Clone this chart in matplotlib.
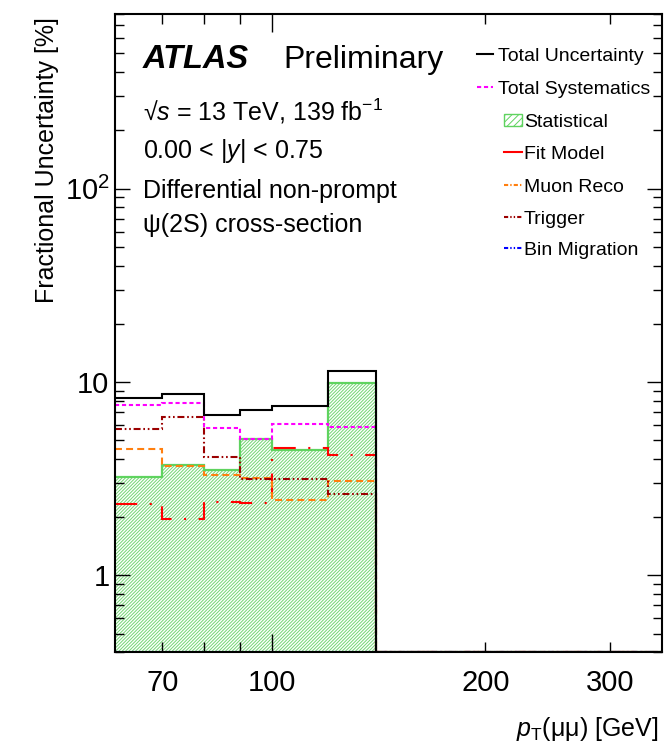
import numpy as np
import matplotlib
matplotlib.use("Agg")
import matplotlib.pyplot as plt
from matplotlib.lines import Line2D
from matplotlib.patches import Rectangle
from matplotlib.ticker import FixedLocator, FixedFormatter, NullFormatter, LogLocator

plt.rcParams["font.family"] = ["Liberation Sans", "DejaVu Sans"]
plt.rcParams["mathtext.fontset"] = "custom"
plt.rcParams["mathtext.rm"] = "Liberation Sans"
plt.rcParams["mathtext.it"] = "Liberation Sans:italic"
plt.rcParams["mathtext.bf"] = "Liberation Sans:bold"
plt.rcParams["lines.scale_dashes"] = False
plt.rcParams["hatch.linewidth"] = 0.7

# Binning in pT(mumu) [GeV] and fractional uncertainties [%] per bin
pt_edges = [60, 70, 80, 90, 100, 120, 140, 355]
total_unc = [8.27, 8.67, 6.73, 7.15, 7.47, 11.4, 0.0]
total_syst = [7.64, 7.83, 5.79, 5.07, 6.05, 5.82, 0.0]
statistical = [3.21, 3.73, 3.49, 5.07, 4.44, 9.88, 0.0]
fit_model = [2.33, 1.96, 2.39, 2.37, 4.54, 4.19, 0.0]
muon_reco = [4.50, 3.68, 3.29, 3.20, 2.46, 3.09, 0.0]
trigger = [5.69, 6.60, 4.10, 3.15, 3.16, 2.64, 0.0]
bin_migration = [0.20, 0.15, 0.25, 0.20, 0.30, 0.20, 0.0]

x_ticks_major = [100]
x_ticks_minor = [70, 80, 90, 200, 300]
x_minor_labels = ["70", "", "", "200", "300"]
y_ticks = [1, 10, 100]
y_tick_labels = ["1", "10", r"10$^{2}$"]

y_lo, y_hi = 0.4, 800

W, H = 667, 756
fig = plt.figure(figsize=(W / 100, H / 100), dpi=100)


def fx(px):
    return px / W


def fy(py):
    return 1 - py / H


ax = fig.add_axes([fx(115), fy(652.3), fx(662) - fx(115), fy(14) - fy(652.3)])
ax.set_xscale("log")
ax.set_yscale("log")
ax.set_xlim(pt_edges[0], pt_edges[-1])
ax.set_ylim(y_lo, y_hi)

edges = np.array(pt_edges, dtype=float)


def shown(v):
    # empty bins sit on the lower edge of the axis
    return np.maximum(np.asarray(v, dtype=float), y_lo)


stat_line = "#5fd35f"
stat_hatch = "#72d672"

ax.stairs(shown(statistical), edges, baseline=y_lo, fill=True,
          facecolor="none", edgecolor=stat_hatch, hatch="/" * 10, lw=0)
ax.stairs(shown(statistical), edges, baseline=None, color=stat_line, lw=1.6)

styles = [
    (bin_migration, "#0000ff", (0, (4, 2, 1, 2, 1, 2))),
    (fit_model, "#ff0000", (0, (16, 9, 1.5, 9))),
    (muon_reco, "#ff7f0f", (0, (5, 3))),
    (trigger, "#9b0000", (0, (5, 2, 1.2, 2, 1.2, 2))),
    (total_syst, "#ff00ff", (0, (3, 2))),
    (total_unc, "black", "-"),
]
for vals, col, ls in styles:
    ax.stairs(shown(vals), edges, baseline=None, color=col, lw=1.5, linestyle=ls)

# axis ticks
ax.xaxis.set_major_locator(FixedLocator(x_ticks_major))
ax.xaxis.set_major_formatter(FixedFormatter([str(v) for v in x_ticks_major]))
ax.xaxis.set_minor_locator(FixedLocator(x_ticks_minor))
ax.xaxis.set_minor_formatter(FixedFormatter(x_minor_labels))
ax.yaxis.set_major_locator(FixedLocator(y_ticks))
ax.yaxis.set_major_formatter(FixedFormatter(y_tick_labels))
ax.yaxis.set_minor_locator(LogLocator(base=10, subs=np.arange(2, 10)))
ax.yaxis.set_minor_formatter(NullFormatter())

ax.tick_params(which="both", direction="in", top=True, right=True,
               labelsize=21, width=1.0, color="black")
ax.tick_params(axis="x", which="major", length=13, pad=12)
ax.tick_params(axis="x", which="minor", length=7, pad=12)
ax.tick_params(axis="y", which="major", length=11, pad=4)
ax.tick_params(axis="y", which="minor", length=6.5, pad=4)
for s in ax.spines.values():
    s.set_linewidth(1.5)

# titles
fig.text(fx(47), fy(17), "Fractional Uncertainty [%]", rotation=90,
         ha="center", va="top", fontsize=18)
fig.text(fx(658), fy(736), r"$p_{\mathrm{T}}$(μμ) [GeV]", ha="right",
         va="baseline", fontsize=18)

# labels inside the frame
fig.text(fx(143), fy(68), "ATLAS", fontsize=23.5, fontweight="bold",
         fontstyle="italic", va="baseline")
fig.text(fx(283), fy(68), "Preliminary", fontsize=23, va="baseline")
fig.text(fx(143), fy(120), r"√$s$ = 13 TeV, 139 fb$^{-1}$", fontsize=18, va="baseline")
fig.text(fx(143), fy(158), r"0.00 < |$y$| < 0.75", fontsize=18, va="baseline")
fig.text(fx(143), fy(198), "Differential non-prompt", fontsize=18, va="baseline")
fig.text(fx(143), fy(232), "ψ(2S) cross-section", fontsize=18, va="baseline")

# legend
legend_rows = [
    ("Total Uncertainty", 54, 477, 493, 498, "line", "black", "-"),
    ("Total Systematics", 87, 477, 493, 498, "line", "#ff00ff", (0, (3, 2))),
    ("Statistical", 120, 504, 522, 524, "box", stat_line, None),
    ("Fit Model", 152, 504, 522, 524, "line", "#ff0000", "-"),
    ("Muon Reco", 185, 504, 522, 524, "line", "#ff7f0f", (0, (3, 1.5, 1, 1.5))),
    ("Trigger", 217, 504, 522, 524, "line", "#9b0000", (0, (3, 1.5, 1, 1.5, 1, 1.5))),
    ("Bin Migration", 248, 504, 522, 524, "line", "#0000ff", (0, (3, 1.5, 1, 1.5, 1, 1.5))),
]
for label, yc, x0, x1, xt, kind, col, ls in legend_rows:
    if kind == "line":
        fig.add_artist(Line2D([fx(x0), fx(x1)], [fy(yc), fy(yc)], color=col,
                              lw=1.5, linestyle=ls, transform=fig.transFigure))
    else:
        fig.add_artist(Rectangle((fx(x0), fy(yc + 6)), fx(x1) - fx(x0),
                                 fy(yc - 6) - fy(yc + 6), facecolor="none",
                                 edgecolor=col, hatch="/" * 5, lw=1.0,
                                 transform=fig.transFigure))
    fig.text(fx(xt), fy(yc + 7), label, fontsize=14, va="baseline")

fig.savefig("out.png", dpi=100)
